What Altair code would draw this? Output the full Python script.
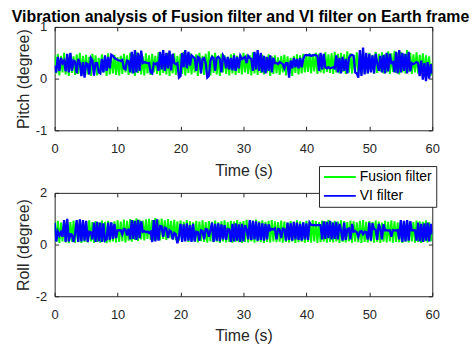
import altair as alt
import pandas as pd

TITLE = "Vibration analysis of Fusion filter and VI filter on Earth frame"
SERIES = ["Fusion filter", "VI filter"]
COLORS = ["#00ff00", "#0000ff"]
X_TICKS = [0, 10, 20, 30, 40, 50, 60]
PITCH_TICKS = [-1, 0, 1]
ROLL_TICKS = [-2, 0, 2]

pitch_fusion = [
    0.45,0.10,0.48,0.06,0.44,0.12,0.50,0.08,0.46,0.05,0.49,0.11,0.43,0.07,0.47,0.09,0.50,0.06,0.44,0.10,
    0.46,0.08,0.42,0.05,0.48,0.11,0.45,0.06,0.40,0.09,0.47,0.12,0.44,0.05,0.49,0.08,0.43,0.10,0.46,0.07,
    0.41,0.06,0.44,0.09,0.48,0.12,0.45,0.07,0.50,0.10,0.47,0.05,0.52,0.11,0.46,0.08,0.43,0.06,0.49,0.10,
    0.45,0.07,0.48,0.12,0.44,0.09,0.51,0.06,0.47,0.11,0.43,0.08,0.50,0.05,0.46,0.10,0.49,0.07,0.44,0.12,
    0.48,0.09,0.52,0.06,0.45,0.11,0.49,0.08,0.43,0.12,0.47,0.05,0.50,0.10,0.44,0.07,0.48,0.09,0.53,0.06,
    0.46,0.11,0.50,0.08,0.44,0.05,0.48,0.12,0.45,0.09,0.42,0.06,0.47,0.10,0.49,0.07,0.44,0.11,0.46,0.08,
    0.50,0.12,0.47,0.09,0.45,0.06,0.51,0.10,0.48,0.07,0.44,0.11,0.46,0.08,0.42,0.12,0.47,0.05,0.43,0.09,
    0.45,0.10,0.41,0.07,0.44,0.12,0.46,0.06,0.43,0.09,0.40,0.05,0.44,0.11,0.47,0.08,0.45,0.10,0.48,0.12,
    0.46,0.13,0.49,0.10,0.47,0.14,0.50,0.09,0.48,0.12,0.45,0.10,0.51,0.13,0.47,0.11,0.49,0.09,0.52,0.12,
    0.48,0.10,0.50,0.13,0.47,0.09,0.53,0.12,0.49,0.10,0.46,0.14,0.51,0.11,0.48,0.08,0.52,0.12,0.47,0.10,
    0.50,0.13,0.46,0.09,0.52,0.11,0.48,0.14,0.51,0.10,0.47,0.12,0.53,0.09,0.49,0.13,0.54,0.11,0.50,0.08,
    0.52,0.12,0.48,0.10,0.55,0.13,0.50,0.09,0.47,0.12,0.51,0.10,0.46,0.14,0.49,0.08,0.45,0.11,0.43,0.06,
    0.30,
]

pitch_vi = [
    0.25,0.12,0.42,0.15,0.40,0.30,0.35,0.14,0.48,0.12,0.50,0.15,0.35,0.33,0.10,0.38,0.30,0.05,0.32,0.02,
    0.30,0.28,0.08,0.40,0.35,0.06,0.30,0.30,0.12,0.10,0.38,0.12,0.45,0.15,0.42,0.20,0.46,0.44,0.40,0.38,
    0.36,0.35,0.34,0.36,0.20,0.18,0.35,0.34,0.12,0.52,0.10,0.55,0.12,0.50,0.15,0.54,0.30,0.32,0.31,0.30,
    0.30,0.12,0.10,0.30,0.28,0.30,0.15,0.52,0.18,0.55,0.15,0.50,0.20,0.54,0.16,0.48,0.30,0.28,0.30,0.02,
    0.05,0.50,0.22,0.55,0.20,0.52,0.25,0.45,0.42,0.40,0.15,0.42,0.40,0.10,0.38,0.40,0.30,0.02,0.05,0.35,
    0.42,0.40,0.15,0.40,0.42,0.38,0.12,0.45,0.40,0.20,0.42,0.18,0.40,0.16,0.45,0.15,0.42,0.20,0.44,0.38,
    0.40,0.42,0.30,0.44,0.40,0.38,0.15,0.52,0.18,0.55,0.15,0.50,0.12,0.44,0.10,0.42,0.15,0.45,0.12,0.40,
    0.30,0.30,0.28,0.32,0.30,0.28,0.20,0.30,0.30,0.02,0.35,0.20,0.40,0.22,0.38,0.20,0.40,0.22,0.38,0.45,
    0.46,0.45,0.46,0.44,0.45,0.46,0.45,0.44,0.15,0.50,0.18,0.48,0.22,0.20,0.22,0.20,0.21,0.22,0.20,0.45,
    0.12,0.40,0.10,0.42,0.15,0.38,0.10,0.40,0.45,0.46,0.44,0.12,0.10,0.02,0.55,0.05,0.60,0.08,0.50,0.10,
    0.48,0.12,0.45,0.10,0.48,0.30,0.15,0.44,0.12,0.46,0.10,0.50,0.14,0.48,0.30,0.32,0.12,0.52,0.10,0.55,
    0.12,0.50,0.15,0.48,0.10,0.52,0.14,0.30,0.28,0.30,0.32,0.30,0.05,0.35,-0.02,0.30,-0.05,0.32,0.00,0.28,
    0.10,
]

roll_fusion = [
    0.88,0.10,0.92,0.06,0.85,0.12,0.95,0.08,0.90,0.05,0.87,0.11,0.93,0.07,0.89,0.09,0.96,0.06,0.86,0.10,
    0.90,0.08,0.94,0.12,0.87,0.06,0.91,0.10,0.85,0.07,0.93,0.11,0.88,0.05,0.92,0.09,0.86,0.12,0.90,0.08,
    0.94,0.10,0.89,0.13,0.97,0.08,0.92,0.15,0.99,0.11,0.95,0.18,1.02,0.14,0.96,0.20,0.93,0.16,0.98,0.22,
    1.00,0.18,0.95,0.15,1.03,0.20,0.97,0.16,1.01,0.22,0.94,0.18,0.99,0.25,0.92,0.20,0.96,0.17,0.90,0.15,
    0.93,0.12,0.88,0.16,0.95,0.10,0.90,0.14,0.86,0.11,0.92,0.08,0.89,0.13,0.94,0.10,0.87,0.07,0.91,0.12,
    0.88,0.09,0.93,0.11,0.86,0.06,0.90,0.12,0.94,0.08,0.87,0.10,0.92,0.07,0.89,0.11,0.95,0.09,0.88,0.06,
    0.91,0.10,0.96,0.08,0.89,0.12,0.93,0.07,0.97,0.11,0.90,0.09,0.94,0.06,0.88,0.10,0.92,0.08,0.95,0.12,
    0.90,0.09,0.87,0.11,0.93,0.07,0.89,0.10,0.85,0.08,0.91,0.12,0.88,0.06,0.94,0.09,0.90,0.11,0.86,0.07,
    0.92,0.10,0.89,0.08,0.95,0.12,0.91,0.06,0.87,0.09,0.93,0.11,0.90,0.07,0.96,0.10,0.88,0.08,0.92,0.12,
    0.89,0.06,0.94,0.10,0.91,0.08,0.87,0.12,0.93,0.07,0.90,0.11,0.86,0.09,0.92,0.06,0.95,0.10,0.88,0.08,
    0.91,0.12,0.87,0.07,0.93,0.10,0.89,0.06,0.85,0.11,0.92,0.08,0.88,0.12,0.94,0.07,0.90,0.10,0.86,0.09,
    0.92,0.06,0.89,0.11,0.95,0.08,0.91,0.12,0.87,0.07,0.93,0.10,0.90,0.06,0.88,0.11,0.94,0.08,0.86,0.12,
    0.50,
]

roll_vi = [
    0.85,0.12,0.50,0.35,0.48,0.30,0.95,0.10,1.00,0.12,0.40,0.38,0.10,0.42,0.95,0.10,0.98,0.12,0.95,0.15,
    0.92,0.10,0.50,0.48,0.20,0.85,0.10,0.88,0.12,0.85,0.10,0.82,0.15,0.20,0.85,0.18,0.86,0.22,0.80,0.25,
    0.55,0.56,0.55,0.40,0.60,0.58,0.35,0.62,0.20,0.95,0.22,0.92,0.18,0.96,0.25,0.90,0.50,0.52,0.48,0.50,
    0.45,0.50,0.10,0.95,0.12,0.98,0.15,0.72,0.70,0.30,0.65,0.62,0.25,0.55,0.50,0.20,0.45,0.40,0.05,0.30,
    0.80,0.10,0.78,0.12,0.82,0.15,0.75,0.10,0.80,0.12,0.50,0.48,0.15,0.55,0.52,0.20,0.60,0.58,0.30,0.55,
    0.85,0.10,0.80,0.15,0.82,0.12,0.78,0.20,0.75,0.18,0.60,0.58,0.10,0.80,0.12,0.82,0.15,0.78,0.10,0.80,
    0.12,0.75,0.60,0.20,0.95,0.18,0.92,0.20,0.90,0.15,0.85,0.18,0.82,0.15,0.80,0.20,0.78,0.55,0.60,0.58,
    0.62,0.20,0.60,0.58,0.25,0.62,0.60,0.15,0.85,0.18,0.82,0.15,0.88,0.20,0.85,0.18,0.80,0.15,0.86,0.20,
    0.82,0.18,0.85,0.76,0.75,0.76,0.74,0.75,0.76,0.75,0.20,0.90,0.22,0.88,0.25,0.92,0.20,0.85,0.22,0.88,
    0.20,0.80,0.55,0.15,0.85,0.18,0.60,0.62,0.20,0.80,0.50,0.52,0.48,0.30,0.50,0.52,0.40,0.50,0.48,0.20,
    0.85,0.15,0.82,0.60,0.58,0.18,0.80,0.62,0.20,0.78,0.55,0.56,0.54,0.55,0.30,0.56,0.55,0.54,0.56,0.20,
    0.95,0.10,0.92,0.12,0.95,0.15,0.90,0.55,0.56,0.55,0.15,0.85,0.12,0.80,0.10,0.82,0.15,0.85,0.12,0.80,
    0.40,
]

T_END = 60.0


def long_frame(fusion, vi):
    rows = []
    for name, vals in ((SERIES[0], fusion), (SERIES[1], vi)):
        n = len(vals)
        for i, v in enumerate(vals):
            rows.append({"t": T_END * i / (n - 1), "value": v, "series": name})
    return pd.DataFrame(rows)


FONT = "Liberation Sans"
DARK = "#262626"
LABEL_EXPR = "'' + datum.value"

color_scale = alt.Scale(domain=SERIES, range=COLORS)


def panel(df, ylabel, ydomain, yticks, legend, title=None):
    xs = alt.Scale(domain=[0, 60], nice=False, zero=False)
    ys = alt.Scale(domain=ydomain, nice=False, zero=False)
    x_bottom = alt.Axis(values=X_TICKS, orient="bottom", title="Time (s)", offset=-4,
                        tickSize=4, domain=False, grid=False, labelPadding=12,
                        titlePadding=7, labelFontSize=13, titleFontSize=16,
                        labelFlush=False, labelOverlap=False, labelExpr=LABEL_EXPR)
    y_left = alt.Axis(values=yticks, orient="left", title=ylabel, offset=-4,
                      tickSize=4, domain=False, grid=False, labelPadding=8,
                      titlePadding=4, labelFontSize=13, titleFontSize=16,
                      labelFlush=False, labelOverlap=False, labelExpr=LABEL_EXPR)
    x_top = alt.Axis(values=X_TICKS, orient="top", title=None, offset=-4,
                     tickSize=4, domain=False, grid=False, labels=False)
    y_right = alt.Axis(values=yticks, orient="right", title=None, offset=-4,
                       tickSize=4, domain=False, grid=False, labels=False)

    base = alt.Chart(df)
    green = base.transform_filter(alt.datum.series == SERIES[0]).mark_line(
        strokeWidth=2, clip=True).encode(
        x=alt.X("t:Q", scale=xs, axis=x_bottom),
        y=alt.Y("value:Q", scale=ys, axis=y_left),
        color=alt.Color("series:N", scale=color_scale, legend=legend),
    )
    blue = base.transform_filter(alt.datum.series == SERIES[1]).mark_line(
        strokeWidth=2.3, clip=True).encode(
        x=alt.X("t:Q", scale=xs, axis=x_top),
        y=alt.Y("value:Q", scale=ys, axis=y_right),
        color=alt.Color("series:N", scale=color_scale, legend=legend),
    )
    props = dict(width=380, height=104)
    if title is not None:
        props["title"] = title
    return alt.layer(green, blue).resolve_axis(x="independent", y="independent").properties(**props)


legend = alt.Legend(
    title=None, orient="none", legendX=266, legendY=-27, direction="vertical",
    symbolType="stroke", symbolSize=1024, symbolStrokeWidth=2, clipHeight=14,
    labelFontSize=14, labelFont=FONT, labelColor="#000000",
    padding=4, rowPadding=5, labelOffset=3,
    strokeColor=DARK, fillColor="white", cornerRadius=0,
)

title = alt.TitleParams(
    text=TITLE, font=FONT, fontSize=16, fontWeight="bold", color="#000000",
    anchor="middle", frame="group", baseline="alphabetic", offset=-17, dx=-3,
)

top = panel(long_frame(pitch_fusion, pitch_vi), "Pitch (degree)", [-1, 1], PITCH_TICKS, None, title)
bottom = panel(long_frame(roll_fusion, roll_vi), "Roll (degree)", [-2, 2], ROLL_TICKS, legend)

chart = alt.vconcat(top, bottom, spacing=63, bounds="flush").resolve_scale(
    color="independent").resolve_legend(color="independent").configure_view(
    stroke=DARK, strokeWidth=1).configure_axis(
    labelFont=FONT, titleFont=FONT, labelColor=DARK, titleColor=DARK,
    tickColor=DARK, titleFontWeight="normal").properties(
    padding={"left": 10, "top": 7, "right": 5, "bottom": 5}, background="white")

chart.save("out.html", embed_options={"renderer": "svg", "actions": False})
